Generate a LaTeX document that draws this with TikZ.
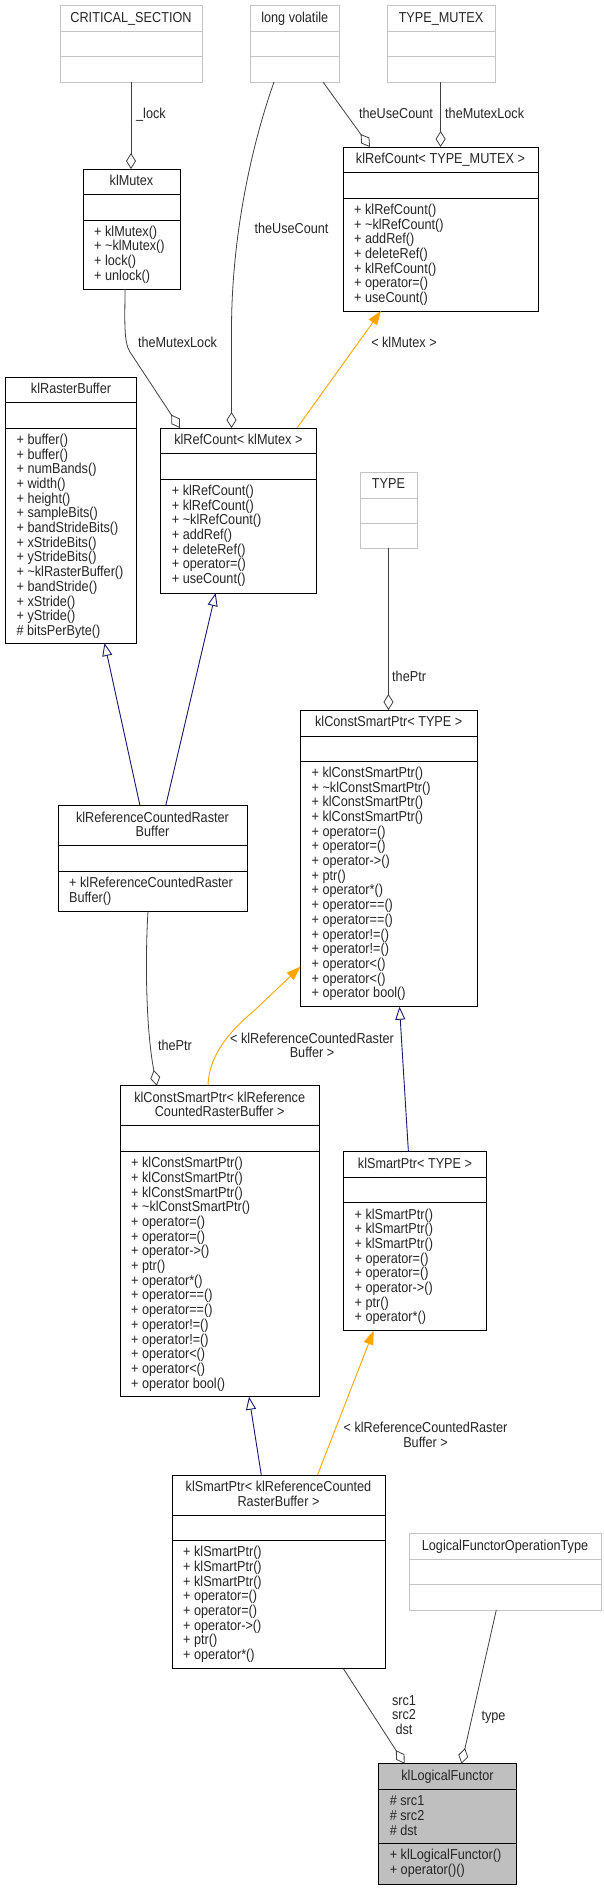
\documentclass[tikz,border=0pt]{standalone}
\usepackage{fontspec}
\setmainfont{Liberation Sans}[FakeStretch=0.88]
\usetikzlibrary{arrows.meta}
\definecolor{edgegray}{HTML}{404040}
\definecolor{inhblue}{HTML}{191970}
\definecolor{tmplorange}{HTML}{FFA500}
\definecolor{boxgray}{HTML}{BFBFBF}
\definecolor{extgray}{HTML}{C4C4C4}
\tikzset{
  txt/.style={inner sep=0pt, font=\fontsize{14.4}{14.7}\selectfont, text=black!85},
  usage/.style={draw=edgegray, line width=0.8pt, -{Diamond[open, length=16pt, width=10pt]}},
  inh/.style={draw=inhblue, line width=0.9pt, -{Triangle[open, length=13pt, width=10pt]}},
  tmpl/.style={draw=tmplorange, line width=0.9pt, -{Triangle[length=14pt, width=10pt]}},
}
% color, name, left, top, right, sep1, sep2, bottom
\newcommand\umlbox[8]{%
  \node[draw=#1, line width=0.95pt, inner sep=0pt, outer sep=0pt, anchor=north west,
        minimum width={(#5)-(#3)}, minimum height={(#8)-(#4)}] (#2) at (#3,#4) {};
  \draw[draw=#1, line width=0.95pt] (#3,#6) -- (#5,#6) (#3,#7) -- (#5,#7);
}
% prefix, x, first baseline, anchor, list
\newcommand\tlines[5]{%
  \foreach \t [count=\i] in {#5} {\node[txt, anchor=#4] (#1\i) at (#2, {#3+14.7*(\i-1)}) {\t};}%
}
\begin{document}
\begin{tikzpicture}[x=1pt, y=-1pt]
\useasboundingbox (0,0) rectangle (604,1891);
\fill[white] (0,0) rectangle (604,1891);

% external types
\umlbox{extgray}{crit}{60}{5.7}{202}{31.3}{56.7}{82}
\tlines{crith}{131}{22}{base}{CRITICAL\_SECTION}
\umlbox{extgray}{longv}{250}{5.7}{339.5}{31.3}{56.7}{82}
\tlines{longvh}{294.75}{22}{base}{long volatile}
\umlbox{extgray}{tmutex}{387}{5.7}{495}{31.3}{56.7}{82}
\tlines{tmutexh}{441}{22}{base}{TYPE\_MUTEX}
\umlbox{extgray}{type}{360}{472}{417}{498}{523}{548}
\tlines{typeh}{388.5}{488.3}{base}{TYPE}
\umlbox{extgray}{lfot}{409}{1533.7}{601}{1559}{1584.3}{1610}
\tlines{lfoth}{505}{1550}{base}{LogicalFunctorOperationType}

% klMutex
\umlbox{black}{mutex}{83}{169}{180}{194.3}{220}{289}
\tlines{mutexh}{131.5}{185.3}{base}{klMutex}
\tlines{mutexm}{94}{236}{base west}{+ klMutex(), + \textasciitilde klMutex(), + lock(), + unlock()}

% klRefCount< TYPE_MUTEX >
\umlbox{black}{rctm}{343}{147}{538}{172.7}{198}{311}
\tlines{rctmh}{440.5}{163.3}{base}{klRefCount< TYPE\_MUTEX >}
\tlines{rctmm}{354}{214.3}{base west}{+ klRefCount(), + \textasciitilde klRefCount(), + addRef(), + deleteRef(), + klRefCount(), + operator=(), + useCount()}

% klRasterBuffer
\umlbox{black}{rbuf}{5.4}{377}{136.7}{402.7}{428}{643}
\tlines{rbufh}{71}{393.3}{base}{klRasterBuffer}
\tlines{rbufm}{16.4}{444.3}{base west}{+ buffer(), + buffer(), + numBands(), + width(), + height(), + sampleBits(), + bandStrideBits(), + xStrideBits(), + yStrideBits(), + \textasciitilde klRasterBuffer(), + bandStride(), + xStride(), + yStride(), \# bitsPerByte()}

% klRefCount< klMutex >
\umlbox{black}{rcm}{160.7}{428}{316}{453.7}{479}{593}
\tlines{rcmh}{238.4}{444.3}{base}{klRefCount< klMutex >}
\tlines{rcmm}{171.7}{495.3}{base west}{+ klRefCount(), + klRefCount(), + \textasciitilde klRefCount(), + addRef(), + deleteRef(), + operator=(), + useCount()}

% klConstSmartPtr< TYPE >
\umlbox{black}{cspT}{300.4}{710}{477}{736}{761}{1006.7}
\tlines{cspTh}{388.7}{726.3}{base}{klConstSmartPtr< TYPE >}
\tlines{cspTm}{311.4}{777.3}{base west}{+ klConstSmartPtr(), + \textasciitilde klConstSmartPtr(), + klConstSmartPtr(), + klConstSmartPtr(), + operator=(), + operator=(), + operator->(), + ptr(), + operator*(), + operator==(), + operator==(), + operator!=(), + operator!=(), + operator<(), + operator<(), + operator bool()}

% klReferenceCountedRasterBuffer
\umlbox{black}{rcrb}{58}{805.7}{247}{845.7}{871}{911}
\tlines{rcrbh}{152.5}{822}{base}{klReferenceCountedRaster, Buffer}
\tlines{rcrbm}{69}{887.3}{base west}{+ klReferenceCountedRaster, Buffer()}

% klConstSmartPtr< klReferenceCountedRasterBuffer >
\umlbox{black}{cspR}{120}{1085.7}{319.4}{1125.7}{1151.3}{1396.7}
\tlines{cspRh}{219.7}{1102}{base}{klConstSmartPtr< klReference, CountedRasterBuffer >}
\tlines{cspRm}{131}{1167.6}{base west}{+ klConstSmartPtr(), + klConstSmartPtr(), + klConstSmartPtr(), + \textasciitilde klConstSmartPtr(), + operator=(), + operator=(), + operator->(), + ptr(), + operator*(), + operator==(), + operator==(), + operator!=(), + operator!=(), + operator<(), + operator<(), + operator bool()}

% klSmartPtr< TYPE >
\umlbox{black}{spT}{343.4}{1151.7}{486.6}{1177}{1202.7}{1330.7}
\tlines{spTh}{415}{1168}{base}{klSmartPtr< TYPE >}
\tlines{spTm}{354.4}{1219}{base west}{+ klSmartPtr(), + klSmartPtr(), + klSmartPtr(), + operator=(), + operator=(), + operator->(), + ptr(), + operator*()}

% klSmartPtr< klReferenceCountedRasterBuffer >
\umlbox{black}{spR}{172}{1475}{385}{1515}{1540.3}{1668.7}
\tlines{spRh}{278.5}{1491.3}{base}{klSmartPtr< klReferenceCounted, RasterBuffer >}
\tlines{spRm}{183}{1556.6}{base west}{+ klSmartPtr(), + klSmartPtr(), + klSmartPtr(), + operator=(), + operator=(), + operator->(), + ptr(), + operator*()}

% klLogicalFunctor
\node[draw=black, fill=boxgray, line width=0.95pt, inner sep=0pt, outer sep=0pt, anchor=north west,
      minimum width=137.9, minimum height=120.3] (lf) at (378.6,1763.7) {};
\draw[line width=0.95pt] (378.6,1789.3) -- (516.5,1789.3) (378.6,1843.3) -- (516.5,1843.3);
\tlines{lfh}{447.5}{1780}{base}{klLogicalFunctor}
\tlines{lfa}{389.6}{1805.6}{base west}{\# src1, \# src2, \# dst}
\tlines{lfm}{389.6}{1859.6}{base west}{+ klLogicalFunctor(), + operator()()}

% ---- connectors ----
\draw[usage] (crit.south) -- (crit.south |- mutex.north);
\tlines{lab1}{136}{118}{base west}{\_lock}
\draw[usage] ([xshift=73pt]longv.south west) -- ([xshift=27pt]rctm.north west);
\tlines{lab2}{396}{118}{base}{theUseCount}
\draw[usage] ([xshift=53.6pt]tmutex.south west) -- ([xshift=97.6pt]rctm.north west);
\tlines{lab3}{445}{118}{base west}{theMutexLock}
\draw[usage] ([xshift=24pt]longv.south west) .. controls (250,150) and (231.5,240) .. (231.5,330) -- ([xshift=70.8pt]rcm.north west);
\tlines{lab4}{291.5}{233}{base}{theUseCount}
\draw[usage] ([xshift=42pt]mutex.south west) .. controls (125,318) and (123.3,342) .. (130,352) -- ([xshift=19.3pt]rcm.north west);
\tlines{lab5}{177.5}{347}{base}{theMutexLock}
\draw[tmpl] ([xshift=136.3pt]rcm.north west) -- ([xshift=38pt]rctm.south west);
\tlines{lab6}{404}{347}{base}{< klMutex >}
\draw[inh] ([xshift=82pt]rcrb.north west) -- ([xshift=99.1pt]rbuf.south west);
\draw[inh] ([xshift=107.7pt]rcrb.north west) -- ([xshift=54.9pt]rcm.south west);
\draw[usage] (type.south) -- (type.south |- cspT.north);
\tlines{lab7}{392}{681}{base west}{thePtr}
\draw[usage] ([xshift=90pt]rcrb.south west) .. controls (145,960) and (146,1030) .. ([xshift=36.8pt]cspR.north west);
\tlines{lab8}{175}{1050}{base}{thePtr}
\draw[tmpl] ([xshift=88pt]cspR.north west) .. controls (209,1045) and (247,1017.5) .. (257,1008) -- ([yshift=-256.7pt]cspT.north west);
\tlines{lab9}{312}{1043}{base}{< klReferenceCountedRaster, Buffer >}
\draw[inh] ([xshift=65pt]spT.north west) -- ([xshift=99.1pt]cspT.south west);
\draw[inh] ([xshift=89.3pt]spR.north west) -- ([xshift=129pt]cspR.south west);
\draw[tmpl] ([xshift=145.5pt]spR.north west) -- ([xshift=30.2pt]spT.south west);
\tlines{lab10}{425.5}{1432.5}{base}{< klReferenceCountedRaster, Buffer >}
\draw[usage] ([xshift=171.4pt]spR.south west) -- ([xshift=26pt]lf.north west);
\tlines{lab11}{404}{1705}{base}{src1, src2, dst}
\draw[usage] ([xshift=87.3pt]lfot.south west) -- ([xshift=82.9pt]lf.north west);
\tlines{lab12}{493.5}{1720}{base}{type}
\end{tikzpicture}
\end{document}
